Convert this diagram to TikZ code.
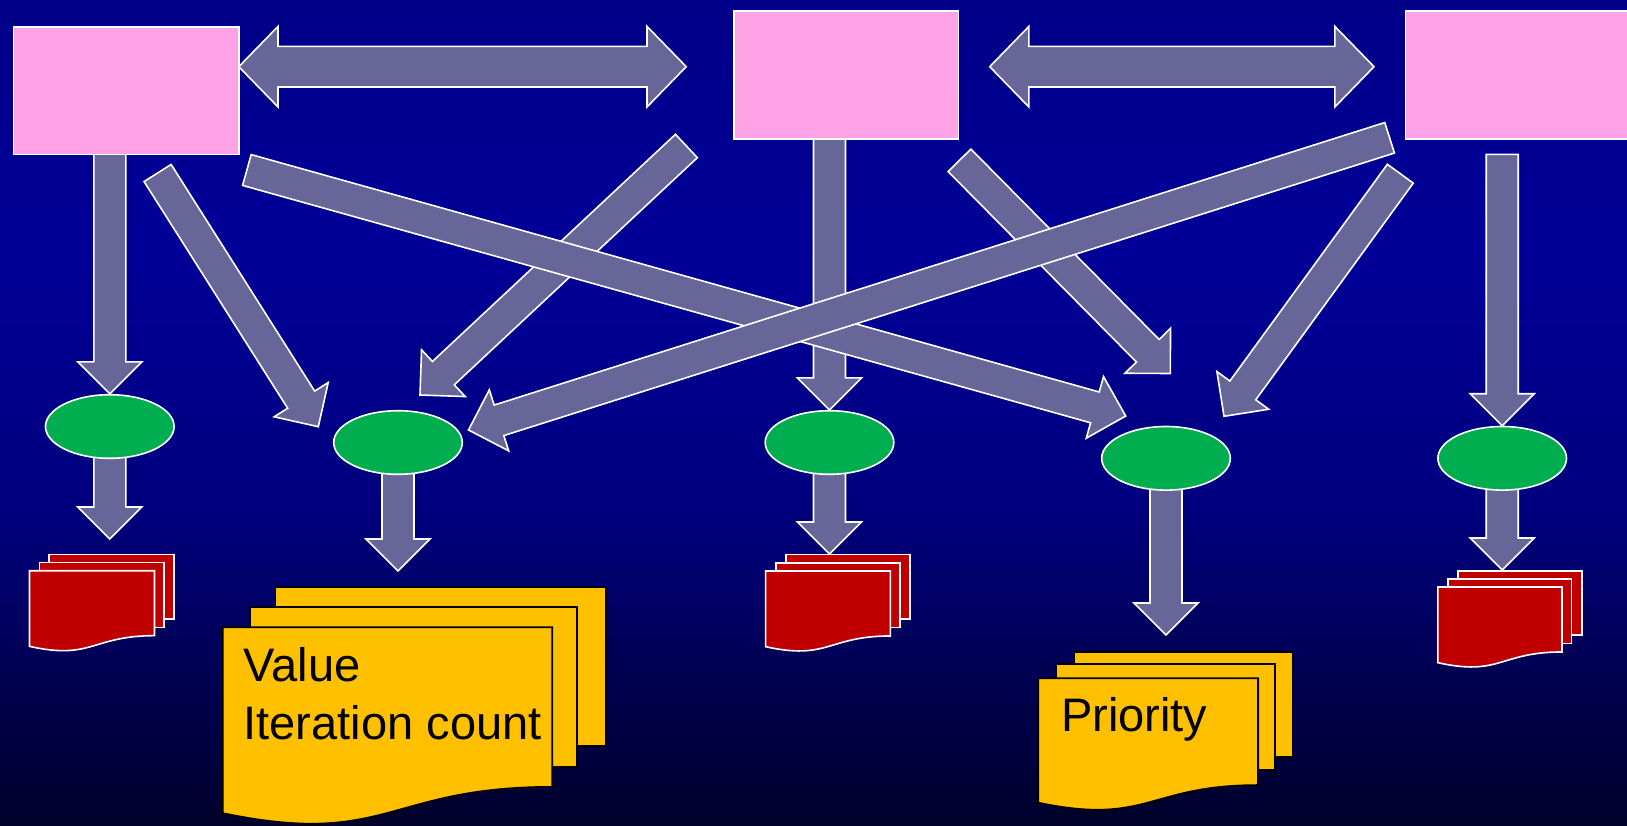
\documentclass[tikz,border=0pt]{standalone}
\usepackage{fontspec}
\setmainfont{Liberation Sans}
\usetikzlibrary{calc,shapes.geometric}
\definecolor{pinkbox}{RGB}{255,162,230}
\definecolor{arrowc}{RGB}{102,102,153}
\definecolor{greenc}{RGB}{0,174,80}
\definecolor{redc}{RGB}{192,0,0}
\definecolor{yelc}{RGB}{255,192,0}
\definecolor{bgA}{RGB}{0,0,136}
\definecolor{bgB}{RGB}{0,0,152}
\definecolor{bgC}{RGB}{0,0,126}
\definecolor{bgD}{RGB}{0,0,42}
\pgfdeclarelayer{back}
\pgfdeclarelayer{mid}
\pgfsetlayers{back,mid,main}
% single block arrow: #1 tail, #2 tip (plain coordinate name)
\newcommand\blk[2]{%
  \coordinate (#2-hb) at ($(#2)!16pt!(#1)$);
  \draw[arr] ($(#1)!8pt!90:(#2)$) -- ($(#2-hb)!8pt!90:(#2)$) -- ($(#2-hb)!16pt!90:(#2)$) -- (#2)
    -- ($(#2-hb)!16pt!-90:(#2)$) -- ($(#2-hb)!8pt!-90:(#2)$) -- ($(#1)!8pt!-90:(#2)$) -- cycle;}
% double block arrow between #1 and #2
\newcommand\dblk[2]{%
  \coordinate (#1-hb) at ($(#1)!19.6pt!(#2)$);
  \coordinate (#2-hb) at ($(#2)!19.6pt!(#1)$);
  \draw[arr] (#1) -- ($(#1-hb)!20.15pt!90:(#2)$) -- ($(#1-hb)!10.15pt!90:(#2)$)
    -- ($(#2-hb)!10.15pt!-90:(#1)$) -- ($(#2-hb)!20.15pt!-90:(#1)$) -- (#2)
    -- ($(#2-hb)!20.15pt!90:(#1)$) -- ($(#2-hb)!10.15pt!90:(#1)$)
    -- ($(#1-hb)!10.15pt!-90:(#2)$) -- ($(#1-hb)!20.15pt!-90:(#2)$) -- cycle;}
% front document sheet with wavy bottom: style, x, y, w, h
\newcommand\docfront[5]{%
  \draw[#1] (#2,#3) -- ({#2+#4},#3) -- ({#2+#4},{#3+0.802*#5})
    .. controls ({#2+0.5*#4},{#3+0.802*#5}) and ({#2+0.5*#4},{#3+1.107*#5}) .. (#2,{#3+0.934*#5}) -- cycle;}
\begin{document}
\begin{tikzpicture}[x=0.5pt,y=-0.5pt,
  arr/.style={fill=arrowc, draw=white, line width=0.8pt, line join=miter},
  pbox/.style={rectangle, fill=pinkbox, draw=white, line width=0.8pt, inner sep=0},
  oval/.style={ellipse, fill=greenc, draw=white, line width=0.8pt, minimum width=64.3pt, minimum height=31.8pt, inner sep=0},
  reddoc/.style={fill=redc, draw=white, line width=0.8pt},
  yeldoc/.style={fill=yelc, draw=black, line width=0.9pt},
  txt/.style={font=\fontsize{23.5}{28}\selectfont, text=black, inner sep=0, anchor=base west}]
\useasboundingbox (0,0) rectangle (1627,825);
\clip (0,0) rectangle (1627,825);
\begin{pgfonlayer}{back}
  \shade[top color=bgA, bottom color=bgB] (0,0) rectangle (1627,251);
  \shade[top color=bgB, bottom color=bgC] (0,250) rectangle (1627,511);
  \shade[top color=bgC, bottom color=bgD] (0,510) rectangle (1627,825);
\end{pgfonlayer}

% pink boxes
\node[pbox, minimum width=112.6pt, minimum height=63.8pt] (b1) at (126.1,90.8) {};
\node[pbox, minimum width=112.3pt, minimum height=64pt] (b2) at (846,74.7) {};
\node[pbox, minimum width=112.3pt, minimum height=64pt] (b3) at (1517.6,74.7) {};

% green ovals
\node[oval] (e1) at (109.8,426.5) {};
\node[oval] (e2) at (398,442.5) {};
\node[oval] (e3) at (829.5,442.5) {};
\node[oval] (e4) at (1166,458.3) {};
\node[oval] (e5) at (1502.2,458.3) {};

% connector end points
\coordinate (v1s) at (e1.north |- b1.center);
\coordinate (v1e) at (e1.north);
\coordinate (v4s) at (e3.north |- b2.center);
\coordinate (v4e) at (e3.north);
\coordinate (v7s) at (1502.2,154.3);
\coordinate (v7e) at (e5.north);
\coordinate (r1in) at (109.8,539);
\coordinate (y1in) at (398,571);
\coordinate (r2in) at (829.5,554);
\coordinate (y2in) at (1166,635);
\coordinate (r3in) at (1502.2,570);
\coordinate (as) at (157.6,173);   \coordinate (ae) at (318.3,426.7);
\coordinate (bs) at (246.9,170);   \coordinate (be) at (1125.7,416);
\coordinate (cs) at (686.4,146);   \coordinate (ce) at (420,395);
\coordinate (ds) at (1389.6,137.8);\coordinate (de) at (468.5,430);
\coordinate (es) at (959.5,160.3); \coordinate (ee) at (1170.3,373.5);
\coordinate (fs) at (1400.3,173.7);\coordinate (fe) at (1224,416.3);
\coordinate (da1l) at (238.8,66.7); \coordinate (da1r) at (686.2,66.7);
\coordinate (da2l) at (989.7,66.7); \coordinate (da2r) at (1374,66.7);

\begin{pgfonlayer}{mid}
  \blk{v1s}{v1e}
  \blk{e1}{r1in}
  \blk{e2}{y1in}
  \blk{v4s}{v4e}
  \blk{e3}{r2in}
  \blk{e4}{y2in}
  \blk{v7s}{v7e}
  \blk{e5}{r3in}
  \blk{cs}{ce}
  \blk{as}{ae}
  \blk{bs}{be}
  \blk{es}{ee}
  \blk{ds}{de}
  \blk{fs}{fe}
  \dblk{da1l}{da1r}
  \dblk{da2l}{da2r}
\end{pgfonlayer}

% red multi-documents
\draw[reddoc] (49.1,554.3) rectangle (174.1,619);
\draw[reddoc] (39.3,562.3) rectangle (163.8,627.3);
\docfront{reddoc}{29.5}{570.7}{125}{81}

\draw[reddoc] (785.7,554.3) rectangle (909.9,619);
\draw[reddoc] (775.7,562.7) rectangle (899.8,627.3);
\docfront{reddoc}{765.6}{571}{124.8}{81}

\draw[reddoc] (1457.9,570.7) rectangle (1582,635);
\draw[reddoc] (1447.8,579) rectangle (1571.4,643.3);
\docfront{reddoc}{1437.8}{587}{124.2}{81}

% yellow multi-documents
\draw[yeldoc] (275.4,587.3) rectangle (605.8,745.7);
\draw[yeldoc] (249.6,607.3) rectangle (577.2,766.7);
\docfront{yeldoc}{222.8}{627.3}{329.4}{199}
\node[txt] (val) at (243.3,681.7) {Value};
\node[txt] (itc) at (243.3,739) {Iteration count};

\draw[yeldoc] (1073.6,651.7) rectangle (1293,756.7);
\draw[yeldoc] (1055.9,664.3) rectangle (1274.6,770);
\docfront{yeldoc}{1038.2}{678.3}{219.9}{133.2}
\node[txt] (pri) at (1060.6,731.7) {Priority};
\end{tikzpicture}
\end{document}
